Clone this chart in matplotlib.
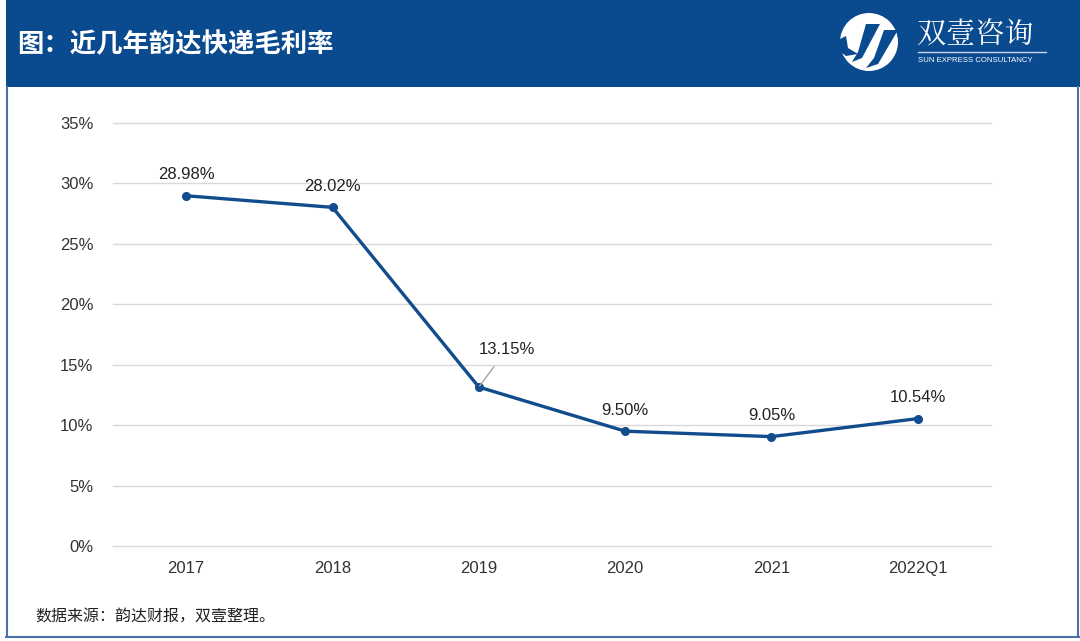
import matplotlib
matplotlib.use("Agg")
import matplotlib.pyplot as plt
from matplotlib.patches import Rectangle, Ellipse, Polygon
from matplotlib.lines import Line2D

categories = ["2017", "2018", "2019", "2020", "2021", "2022Q1"]
values = [28.98, 28.02, 13.15, 9.50, 9.05, 10.54]
labels = ["28.98%", "28.02%", "13.15%", "9.50%", "9.05%", "10.54%"]
yticks = [0, 5, 10, 15, 20, 25, 30, 35]

CJK = ["Noto Sans CJK SC", "DejaVu Sans"]
LAT = ["Liberation Sans", "DejaVu Sans"]
BLUE = "#0A4A8F"
LINE = "#114D8E"

W, H = 1080, 641
fig = plt.figure(figsize=(W / 100, H / 100), dpi=100)
fig.patch.set_facecolor("white")

def fx(px):
    return px / W

def fy(py):
    return 1 - py / H

# header band
fig.patches.append(Rectangle((fx(6), fy(87)), fx(1080) - fx(6), fy(0) - fy(87),
                             transform=fig.transFigure, facecolor=BLUE, edgecolor="none", zorder=0))
# frame
frame_c = "#4A72A6"
fig.lines.append(Line2D([fx(6.5), fx(6.5)], [fy(87), fy(637)], transform=fig.transFigure, color=frame_c, lw=1.5))
fig.lines.append(Line2D([fx(1078), fx(1078)], [fy(87), fy(637)], transform=fig.transFigure, color=frame_c, lw=1.5))
fig.lines.append(Line2D([fx(6), fx(1078.5)], [fy(637), fy(637)], transform=fig.transFigure, color=frame_c, lw=1.5))

fig.text(fx(17), fy(45), "图：近几年韵达快递毛利率", family=CJK, fontsize=19,
         fontweight="bold", color="white", va="center", ha="left")

# logo circle
fig.patches.append(Ellipse((fx(869), fy(42)), 58 / W, 58 / H, transform=fig.transFigure,
                           facecolor="white", edgecolor="none"))
# logo swoosh strokes (approximation)
def poly(pts, color):
    fig.patches.append(Polygon([(fx(a), fy(b)) for a, b in pts], closed=True,
                               transform=fig.transFigure, facecolor=color, edgecolor="none"))
poly([(866, 24), (880, 24), (862, 58), (852, 62), (858, 52)], BLUE)
poly([(884, 30), (898, 30), (878, 64), (866, 68), (874, 58)], BLUE)
poly([(838, 40), (846, 36), (848, 48), (858, 54), (846, 56), (838, 50)], BLUE)

# logo text
fig.text(fx(917), fy(35), "双壹咨询", family=["Noto Serif CJK SC", "Noto Sans CJK SC", "DejaVu Sans"],
         fontsize=21, color="white", va="center", ha="left")
fig.lines.append(Line2D([fx(918), fx(1046)], [fy(52), fy(52)], transform=fig.transFigure, color="#C8D6EA", lw=1))
fig.text(fx(918), fy(60), "SUN EXPRESS CONSULTANCY", family=LAT, fontsize=5.6, color="white",
         va="center", ha="left")

# axes
ax = fig.add_axes([fx(113), fy(546), fx(991) - fx(113), fy(123) - fy(546)])
x = list(range(len(categories)))
ax.plot(x, values, color=LINE, lw=2.4, marker="o", markersize=5.5, zorder=3,
        solid_joinstyle="round")
ax.set_xlim(-0.5, len(categories) - 0.5)
ax.set_ylim(0, 35)
ax.set_yticks(yticks)
ax.set_yticklabels([f"{v}%" for v in yticks], family=LAT, fontsize=12, color="#333333")
ax.set_xticks(x)
ax.set_xticklabels(categories, family=LAT, fontsize=12, color="#333333")
ax.tick_params(axis="y", length=0, pad=14)
ax.tick_params(axis="x", length=0, pad=11)
for t in yticks:
    ax.axhline(t, color="#D9D9D9", lw=1, zorder=0, clip_on=False)
for s in ax.spines.values():
    s.set_visible(False)

for i, (v, lab) in enumerate(zip(values, labels)):
    if i == 2:
        ax.annotate(lab, xy=(i, v), xytext=(20, 27), textcoords="offset points",
                    ha="center", va="center", family=LAT, fontsize=12, color="#222222",
                    arrowprops=dict(arrowstyle="-", color="#A6A6A6", lw=1, shrinkA=6, shrinkB=1))
    else:
        ax.annotate(lab, xy=(i, v), xytext=(0, 15), textcoords="offset points",
                    ha="center", va="center", family=LAT, fontsize=12, color="#222222")

fig.text(fx(35), fy(617), "数据来源：韵达财报，双壹整理。", family=CJK, fontsize=11.5,
         color="#222222", va="center", ha="left")

fig.savefig("out.png", dpi=100)
